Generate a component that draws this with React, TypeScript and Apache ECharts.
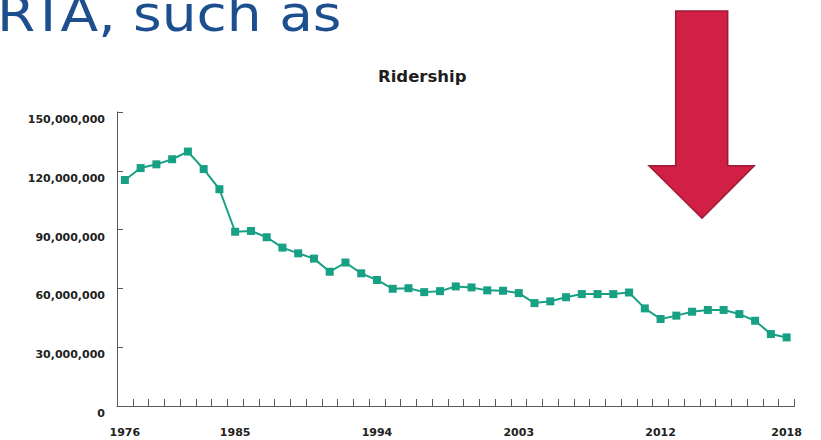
import React, { useEffect, useRef } from "react";
import * as echarts from "echarts";

const years = [
  "1976", "1977", "1978", "1979", "1980", "1981", "1982", "1983", "1984", "1985",
  "1986", "1987", "1988", "1989", "1990", "1991", "1992", "1993", "1994", "1995",
  "1996", "1997", "1998", "1999", "2000", "2001", "2002", "2003", "2004", "2005",
  "2006", "2007", "2008", "2009", "2010", "2011", "2012", "2013", "2014", "2015",
  "2016", "2017", "2018",
];

const ridership = [
  115300000, 121400000, 123300000, 125900000, 129800000, 120900000, 110600000, 88900000, 89300000, 86100000,
  80800000, 77900000, 75200000, 68500000, 73200000, 67700000, 64300000, 59800000, 60100000, 58100000,
  58600000, 61000000, 60500000, 59000000, 58800000, 57600000, 52500000, 53400000, 55500000, 57100000,
  57100000, 57100000, 57900000, 49800000, 44400000, 46100000, 48100000, 49000000, 49000000, 46900000,
  43500000, 36700000, 35000000,
];

// x tick labels as printed in the reference, and the category slots they sit under
const xTickLabels = ["1976", "1985", "1994", "2003", "2012", "2018"];
const xTickLabelSlots = [0, 7, 16, 25, 34, 42];

const yMin = 0;
const yMax = 150000000;
const yInterval = 30000000;

const chartTitle = "Ridership";
const heading = "RTA, such as";

export default function App() {
  const ref = useRef<HTMLDivElement>(null);

  useEffect(() => {
    if (!ref.current) return;
    const chart = echarts.init(ref.current, null, { renderer: "svg" });
    const axisColor = "#5a5a5a";
    const labelFont = "'DejaVu Sans', Verdana, sans-serif";
    chart.setOption({
      animation: false,
      backgroundColor: "#ffffff",
      title: {
        text: chartTitle,
        left: 378,
        top: 68,
        padding: 0,
        textStyle: {
          fontFamily: labelFont,
          fontSize: 16.5,
          fontWeight: "bold",
          color: "#1e1e1e",
          lineHeight: 17,
        },
      },
      grid: { left: 117, top: 112, right: 26.5, bottom: 34, containLabel: false },
      xAxis: {
        type: "category",
        data: years,
        boundaryGap: true,
        axisLine: { show: true, lineStyle: { color: axisColor, width: 1 } },
        axisTick: { show: true, inside: true, length: 7, interval: 0, lineStyle: { color: axisColor } },
        axisLabel: {
          interval: (index: number) => xTickLabelSlots.includes(index),
          formatter: (_v: string, index: number) => {
            const k = xTickLabelSlots.indexOf(index);
            return k >= 0 ? xTickLabels[k] : "";
          },
          margin: 21,
          fontFamily: labelFont,
          fontSize: 11,
          fontWeight: "bold",
          color: "#222222",
        },
        splitLine: { show: false },
      },
      yAxis: {
        type: "value",
        min: yMin,
        max: yMax,
        interval: yInterval,
        axisLine: { show: true, lineStyle: { color: axisColor, width: 1 } },
        axisTick: { show: true, inside: true, length: 6, lineStyle: { color: axisColor } },
        axisLabel: {
          formatter: (v: number) => v.toLocaleString("en-US"),
          margin: 12,
          verticalAlign: "top",
          padding: [2, 0, 0, 0],
          fontFamily: labelFont,
          fontSize: 11,
          fontWeight: "bold",
          color: "#222222",
        },
        splitLine: { show: false },
      },
      series: [
        {
          type: "line",
          data: ridership,
          symbol: "rect",
          symbolSize: 8,
          lineStyle: { color: "#18a084", width: 2 },
          itemStyle: { color: "#18a084" },
        },
      ],
      graphic: [
        {
          type: "text",
          x: -3,
          y: 13.5,
          scaleX: 1.1,
          style: {
            text: heading,
            fontFamily: "'DejaVu Sans', Verdana, sans-serif",
            fontSize: 50,
            fill: "#1d4f8f",
            verticalAlign: "middle",
            align: "left",
          },
        },
        {
          type: "polygon",
          shape: {
            points: [
              [675.7, 11],
              [727.7, 11],
              [727.7, 165.7],
              [754.3, 165.7],
              [702, 218.3],
              [649, 165.7],
              [675.7, 165.7],
            ],
          },
          style: { fill: "#d11f45", stroke: "#9c1a36", lineWidth: 1.5 },
        },
      ],
    });
    return () => chart.dispose();
  }, []);

  return (
    <div
      ref={ref}
      style={{ position: "fixed", left: 0, top: 0, width: 821, height: 440, background: "#fff" }}
    />
  );
}
